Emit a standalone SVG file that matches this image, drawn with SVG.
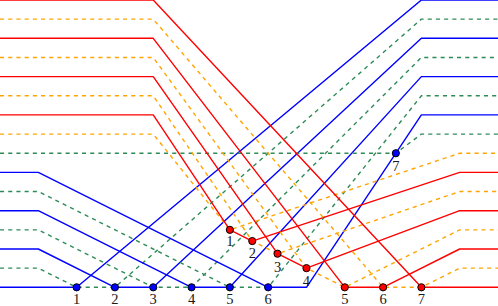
<svg xmlns="http://www.w3.org/2000/svg" width="498" height="306" viewBox="0 0 498 306">
<style>
.l{fill:none;stroke-width:1.4;stroke-linejoin:round}
.b{stroke:#0000ff}
.g{stroke:#2e8b57;stroke-dasharray:4.1 4.1}
.r{stroke:#ff0000}
.o{stroke:#ffa500;stroke-dasharray:4.1 4.1}
.nb{fill:#0000ff;stroke:#000;stroke-width:1}
.nr{fill:#ff0000;stroke:#000;stroke-width:1}
text{font-family:"Liberation Serif","DejaVu Serif",serif;font-size:14.5px;text-anchor:middle;fill:#1a1a1a}
</style>
<rect width="498" height="306" fill="#fff"/>
<g id="connectors">
<polyline class="l b" points="0,287.31 76.62,287.31 421.38,0 498,0"/>
<polyline class="l g" points="0,268.15 38.31,268.15 76.62,287.31 114.92,287.31 421.38,19.15 498,19.15"/>
<polyline class="l b" points="0,249 38.31,249 114.92,287.31 153.23,287.31 421.38,38.31 498,38.31"/>
<polyline class="l g" points="0,229.85 38.31,229.85 153.23,287.31 191.54,287.31 421.38,57.46 498,57.46"/>
<polyline class="l b" points="0,210.69 38.31,210.69 191.54,287.31 229.85,287.31 421.38,76.62 498,76.62"/>
<polyline class="l g" points="0,191.54 38.31,191.54 229.85,287.31 268.15,287.31 421.38,95.77 498,95.77"/>
<polyline class="l b" points="0,172.38 38.31,172.38 268.15,287.31 306.46,287.31 421.38,114.92 498,114.92"/>
<polyline class="l g" points="0,153.23 395.85,153.23 421.38,134.08 498,134.08"/>
<polyline class="l o" points="0,134.08 153.23,134.08 229.85,229.85 459.69,153.23 498,153.23"/>
<polyline class="l r" points="0,114.92 153.23,114.92 229.85,229.85 252.26,241.05 459.69,172.38 498,172.38"/>
<polyline class="l o" points="0,95.77 153.23,95.77 252.26,241.05 277.53,253.69 459.69,191.54 498,191.54"/>
<polyline class="l r" points="0,76.62 153.23,76.62 277.53,253.69 306.46,268.15 459.69,210.69 498,210.69"/>
<polyline class="l o" points="0,57.46 153.23,57.46 306.46,268.15 344.77,287.31 459.69,229.85 498,229.85"/>
<polyline class="l r" points="0,38.31 153.23,38.31 344.77,287.31 383.08,287.31 459.69,249 498,249"/>
<polyline class="l o" points="0,19.15 153.23,19.15 383.08,287.31 421.38,287.31 459.69,268.15 498,268.15"/>
<polyline class="l r" points="0,0 153.23,0 421.38,287.31 498,287.31"/>
</g>
<g id="b1"><circle class="nb" cx="76.62" cy="287.31" r="3.6"/><text x="76.62" y="304.3">1</text></g>
<g id="b2"><circle class="nb" cx="114.92" cy="287.31" r="3.6"/><text x="114.92" y="304.3">2</text></g>
<g id="b3"><circle class="nb" cx="153.23" cy="287.31" r="3.6"/><text x="153.23" y="304.3">3</text></g>
<g id="b4"><circle class="nb" cx="191.54" cy="287.31" r="3.6"/><text x="191.54" y="304.3">4</text></g>
<g id="b5"><circle class="nb" cx="229.85" cy="287.31" r="3.6"/><text x="229.85" y="304.3">5</text></g>
<g id="b6"><circle class="nb" cx="268.15" cy="287.31" r="3.6"/><text x="268.15" y="304.3">6</text></g>
<g id="b7"><circle class="nb" cx="395.85" cy="153.23" r="3.6"/><text x="395.85" y="170.5">7</text></g>
<g id="r1"><circle class="nr" cx="229.85" cy="229.85" r="3.6"/><text x="229.85" y="246.3">1</text></g>
<g id="r2"><circle class="nr" cx="252.26" cy="241.05" r="3.6"/><text x="252.26" y="257.7">2</text></g>
<g id="r3"><circle class="nr" cx="277.53" cy="253.69" r="3.6"/><text x="277.53" y="271.5">3</text></g>
<g id="r4"><circle class="nr" cx="306.46" cy="268.15" r="3.6"/><text x="306.46" y="285.6">4</text></g>
<g id="r5"><circle class="nr" cx="344.77" cy="287.31" r="3.6"/><text x="344.77" y="304.3">5</text></g>
<g id="r6"><circle class="nr" cx="383.08" cy="287.31" r="3.6"/><text x="383.08" y="304.3">6</text></g>
<g id="r7"><circle class="nr" cx="421.38" cy="287.31" r="3.6"/><text x="421.38" y="304.3">7</text></g>
</svg>
